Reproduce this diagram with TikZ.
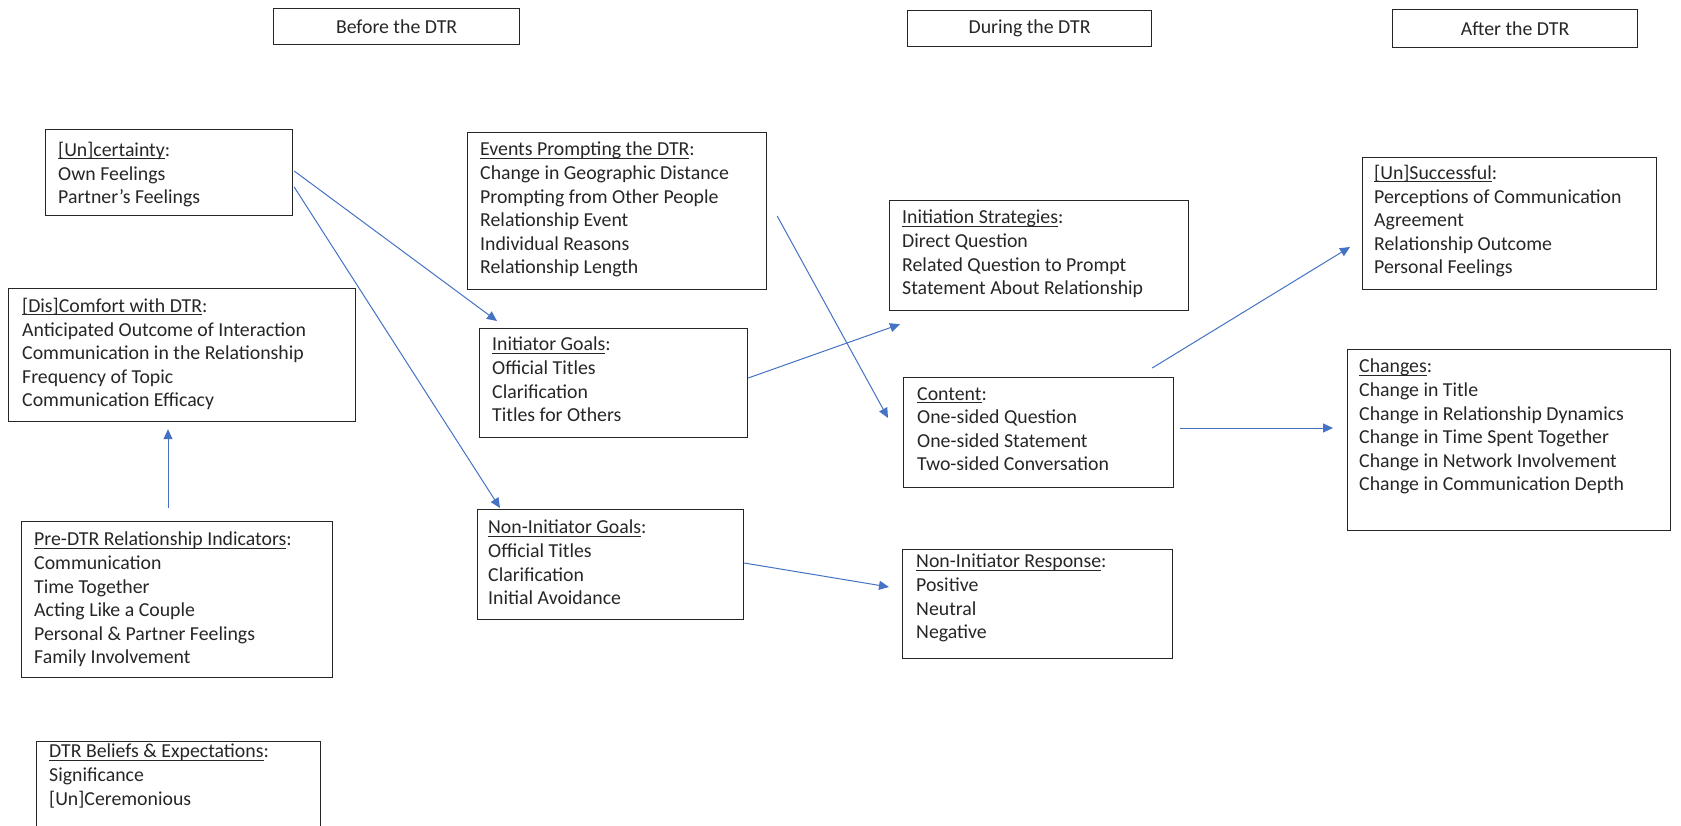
\documentclass[tikz,border=0pt]{standalone}
\usepackage{fontspec}
\setmainfont{Carlito}
\usetikzlibrary{positioning,calc,arrows.meta}
\definecolor{linkblue}{RGB}{68,114,196}
\definecolor{framegray}{RGB}{38,38,38}
\newcommand{\hd}[1]{\setbox0\hbox{#1}\rlap{\rule[-2.6pt]{\wd0}{0.9pt}}\box0}

\begin{document}
\begin{tikzpicture}[x=1pt,y=-1pt,
    font=\fontsize{19.8}{23.6}\selectfont,
    box/.style={draw=framegray,line width=1.2pt,anchor=north west,inner sep=0pt,text=framegray},
    txt/.style={anchor=north west,align=left,inner sep=0pt,text=framegray,
      execute at begin node=\rule{0pt}{15pt}},
    link/.style={linkblue,line width=1pt,-{Triangle[length=10pt,width=9pt]}}]
  \useasboundingbox (0,0) rectangle (1681,825);

  % Column headings
  \node[box,minimum width=246,minimum height=36] (before) at (273,8) {Before the DTR};
  \node[box,minimum width=244,minimum height=36] (during) at (907,10) {During the DTR};
  \node[box,minimum width=245,minimum height=38] (after) at (1392,9) {After the DTR};

  % Before the DTR
  \node[box,minimum width=247,minimum height=86] (uncert) at (45,129) {};
  \node[txt] (uncertT) at ($(uncert.north west)+(13,13)$)
    {\hd{[Un]certainty}:\\Own Feelings\\Partner’s Feelings};
  \node[box,minimum width=347,minimum height=133] (comfort) at (8,288) {};
  \node[txt] (comfortT) at ($(comfort.north west)+(14,10)$)
    {\hd{[Dis]Comfort with DTR}:\\Anticipated Outcome of Interaction\\Communication in the Relationship\\Frequency of Topic\\Communication Efficacy};
  \node[box,minimum width=311,minimum height=156] (preind) at (21,521) {};
  \node[txt] (preindT) at ($(preind.north west)+(13,11)$)
    {\hd{Pre-DTR Relationship Indicators}:\\Communication\\Time Together\\Acting Like a Couple\\Personal \& Partner Feelings\\Family Involvement};
  \node[box,minimum width=284,minimum height=110] (beliefs) at (36,741) {};
  \node[txt] (beliefsT) at ($(beliefs.north west)+(13,3)$)
    {\hd{DTR Beliefs \& Expectations}:\\Significance\\{[Un]Ceremonious}};
  \node[box,minimum width=299,minimum height=157] (events) at (467,132) {};
  \node[txt] (eventsT) at ($(events.north west)+(13,10)$)
    {\hd{Events Prompting the DTR}:\\Change in Geographic Distance\\Prompting from Other People\\Relationship Event\\Individual Reasons\\Relationship Length};
  \node[box,minimum width=268,minimum height=109] (initgoals) at (479,328) {};
  \node[txt] (initgoalsT) at ($(initgoals.north west)+(13,9)$)
    {\hd{Initiator Goals}:\\Official Titles\\Clarification\\Titles for Others};
  \node[box,minimum width=266,minimum height=110] (noninitgoals) at (477,509) {};
  \node[txt] (noninitgoalsT) at ($(noninitgoals.north west)+(11,11)$)
    {\hd{Non-Initiator Goals}:\\Official Titles\\Clarification\\Initial Avoidance};

  % During the DTR
  \node[box,minimum width=299,minimum height=110] (strategies) at (889,200) {};
  \node[txt] (strategiesT) at ($(strategies.north west)+(13,10)$)
    {\hd{Initiation Strategies}:\\Direct Question\\Related Question to Prompt\\Statement About Relationship};
  \node[box,minimum width=270,minimum height=110] (content) at (903,377) {};
  \node[txt] (contentT) at ($(content.north west)+(14,10)$)
    {\hd{Content}:\\One-sided Question\\One-sided Statement\\Two-sided Conversation};
  \node[box,minimum width=270,minimum height=109] (response) at (902,549) {};
  \node[txt] (responseT) at ($(response.north west)+(14,5)$)
    {\hd{Non-Initiator Response}:\\Positive\\Neutral\\Negative};

  % After the DTR
  \node[box,minimum width=294,minimum height=132] (success) at (1362,157) {};
  \node[txt] (successT) at ($(success.north west)+(12,8)$)
    {\hd{[Un]Successful}:\\Perceptions of Communication\\Agreement\\Relationship Outcome\\Personal Feelings};
  \node[box,minimum width=323,minimum height=181] (changes) at (1347,349) {};
  \node[txt] (changesT) at ($(changes.north west)+(12,10)$)
    {\hd{Changes}:\\Change in Title\\Change in Relationship Dynamics\\Change in Time Spent Together\\Change in Network Involvement\\Change in Communication Depth};

  % Arrows
  \draw[link] ($(uncert.north east)+(1,42)$) -- ($(initgoals.north west)+(18,-7)$);
  \draw[link] ($(uncert.north east)+(1,58)$) -- ($(noninitgoals.north west)+(23,-1)$);
  \draw[link] ($(preind.north west)+(147,-13)$) -- ($(comfort.south west)+(160,7)$);
  \draw[link] ($(initgoals.north east)+(0,50)$) -- ($(strategies.south west)+(11,13)$);
  \draw[link] ($(events.north east)+(10,84)$) -- ($(content.north west)+(-15,41)$);
  \draw[link] ($(noninitgoals.north east)+(0,54)$) -- ($(response.north west)+(-13,38)$);
  \draw[link] ($(content.north east)+(-22,-9)$) -- ($(success.north west)+(-12,90)$);
  \draw[link] ($(content.north east)+(6,51)$) -- ($(changes.north west)+(-14,79)$);
\end{tikzpicture}
\end{document}
